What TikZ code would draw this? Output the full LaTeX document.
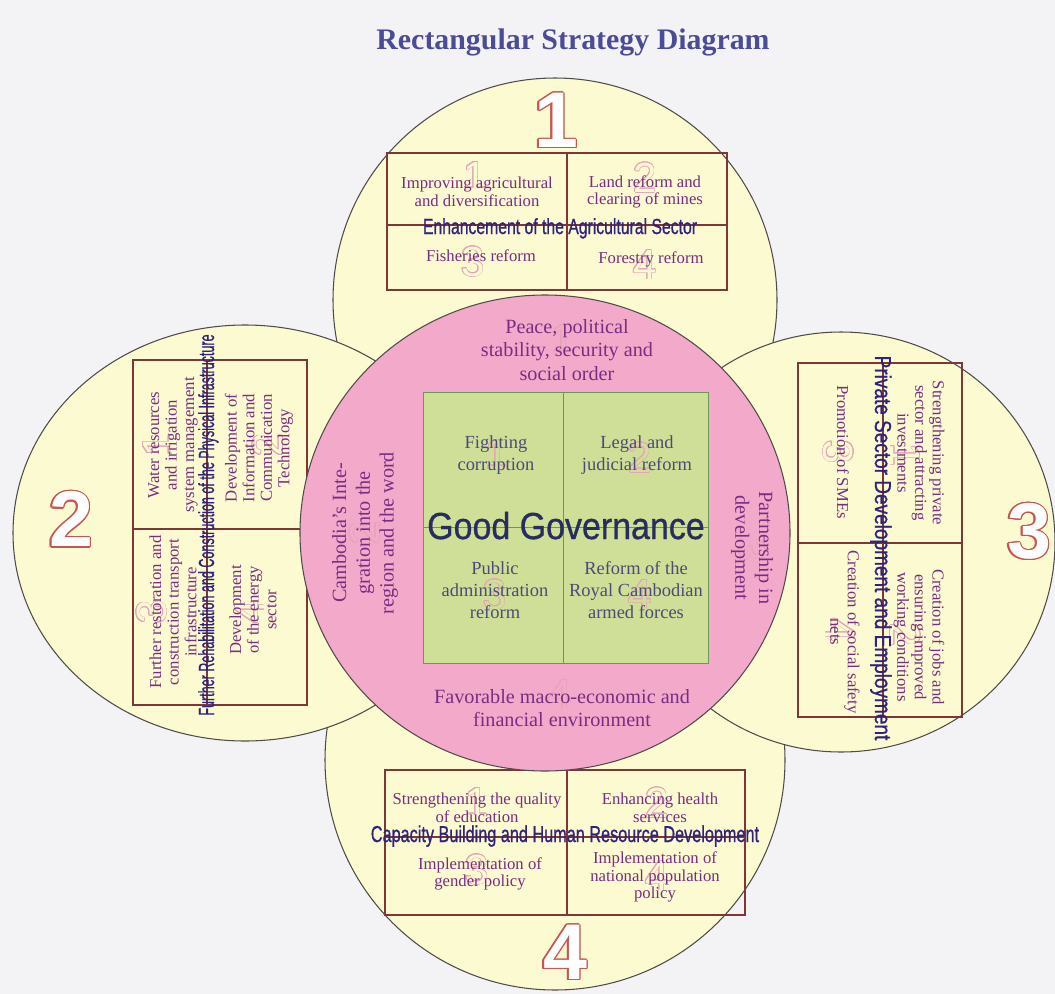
\documentclass[tikz,border=0pt]{standalone}
\usepackage{fontspec}
\usepackage{contour}
\setmainfont{Liberation Serif}
\newfontfamily\headsans{Liberation Sans}
\newfontfamily\bandsans[FakeBold=0.9]{Liberation Sans}

\definecolor{paper}{RGB}{243,243,246}
\definecolor{petal}{RGB}{252,250,208}
\definecolor{rose}{RGB}{243,170,202}
\definecolor{leaf}{RGB}{207,223,152}
\definecolor{leafline}{RGB}{110,150,90}
\definecolor{rim}{RGB}{80,75,75}
\definecolor{boxline}{RGB}{125,55,55}
\definecolor{plum}{RGB}{120,45,130}
\definecolor{ink}{RGB}{48,35,125}
\definecolor{navy}{RGB}{40,45,95}
\definecolor{slate}{RGB}{75,75,120}
\definecolor{titleblue}{RGB}{75,75,150}
\definecolor{numline}{RGB}{200,85,80}
\definecolor{ghostline}{RGB}{228,165,185}

\newcommand{\bandtitle}[3]{\bandsans\resizebox{#1}{#2}{#3}}
\newcommand{\bignum}[1]{\contour{numline}{\textcolor{white}{#1}}}
\newcommand{\ghostnum}[2]{\contour{ghostline}{\textcolor{#1}{#2}}}

\begin{document}
\begin{tikzpicture}[x=0.02cm,y=-0.02cm,inner sep=0pt,
	petalshape/.style={fill=petal,draw=rim,line width=0.6pt},
	cellbox/.style={draw=boxline,line width=0.8pt},
	item/.style={text=plum,align=center,font=\fontsize{9.5}{10}\selectfont},
	core/.style={text=plum,align=center,font=\fontsize{11.5}{13.5}\selectfont},
	pillar/.style={text=slate,align=center,font=\fontsize{10.5}{12.5}\selectfont},
	band/.style={text=ink,anchor=base}]
	\tikzstyle{bigdigit}=[font=\headsans\bfseries\fontsize{45}{45}\selectfont\contourlength{0.7pt}]
	\tikzstyle{ghost}=[font=\headsans\fontsize{24}{24}\selectfont\contourlength{0.35pt}]

	\useasboundingbox[fill=paper] (0,0) rectangle (1055,994);

	% the four petals
	\draw[petalshape] (555,300) circle [radius=222];
	\draw[petalshape] (555,760) circle [radius=230];
	\draw[petalshape] (245,533) ellipse [x radius=232,y radius=208];
	\draw[petalshape] (841,542) ellipse [x radius=214,y radius=210];

	% boxes in the petals
	\draw[cellbox] (387,153) rectangle (727,290) (567,153) -- (567,290) (387,225) -- (727,225);
	\draw[cellbox] (385,770) rectangle (745,915) (567,770) -- (567,915) (385,837) -- (745,837);
	\draw[cellbox] (133,360) rectangle (307,705) (133,529) -- (307,529) (207,360) -- (207,705);
	\draw[cellbox] (798,363) rectangle (962,717) (798,543) -- (962,543) (883,363) -- (883,717);

	% core
	\draw[fill=rose,draw=rim,line width=0.6pt] (545,533) ellipse [x radius=245,y radius=238];
	\draw[fill=leaf,draw=leafline,line width=0.5pt] (423,392) rectangle (708,663) (563,392) -- (563,663) (423,527) -- (708,527);

	% faint numbers behind the texts
	\foreach \x/\y/\n/\r/\bg [count=\i] in {
		475/177/1/0/petal, 645/178/2/0/petal, 473/262/3/0/petal, 645/265/4/0/petal,
		477/803/1/0/petal, 657/803/2/0/petal, 477/870/3/0/petal, 657/876/4/0/petal,
		158/445/1/90/petal, 268/445/2/90/petal, 152/612/3/90/petal, 250/612/4/90/petal,
		905/455/1/-90/petal, 838/452/3/-90/petal, 905/635/2/-90/petal, 840/630/4/-90/petal,
		563/340/1/0/rose, 365/533/2/90/rose, 750/550/3/-90/rose, 560/695/4/0/rose,
		497/455/1/0/leaf, 640/458/2/0/leaf, 495/595/3/0/leaf, 640/595/4/0/leaf}
		\node[ghost,rotate=\r] (g\i) at (\x,\y) {\ghostnum{\bg}{\n}};

	\node[font=\bfseries\fontsize{17}{17}\selectfont,text=titleblue] (title) at (573,42) {Rectangular Strategy Diagram};

	\node[bigdigit] (n1) at (556,121) {\bignum{1}};
	\node[bigdigit] (n2) at (71,520) {\bignum{2}};
	\node[bigdigit] (n3) at (1029,532) {\bignum{3}};
	\node[bigdigit] (n4) at (565,953) {\bignum{4}};

	% petal 1
	\node[item] (agri) at (477,192) {Improving agricultural\\and diversification};
	\node[item] (land) at (645,192) {Land reform and\\clearing of mines};
	\node[item] (fish) at (481,256) {Fisheries reform};
	\node[item] (forest) at (651,259) {Forestry reform};
	\node[band] (t1) at (560,234) {\bandtitle{156pt}{9pt}{Enhancement of the Agricultural Sector}};

	% petal 2
	\node[item,rotate=90] (water) at (173,445) {Water resources\\and irrigation\\system management};
	\node[item,rotate=90] (ict) at (259,448) {Development of\\Information and\\Communication\\Technology};
	\node[item,rotate=90] (transport) at (173,612) {Further restoration and\\construction transport\\infrastructure};
	\node[item,rotate=90] (energy) at (253,610) {Development\\of the energy\\sector};
	\node[band,rotate=90] (t2) at (214,525) {\bandtitle{217pt}{9pt}{Further Rehabilitation and Construction of the Physical Infrastructure}};

	% petal 3
	\node[item,rotate=-90] (invest) at (921,453) {Strengthening private\\sector and attracting\\investments};
	\node[item,rotate=-90] (sme) at (843,452) {Promotion of SMEs};
	\node[item,rotate=-90] (jobs) at (919,637) {Creation of jobs and\\ensuring improved\\working conditions};
	\node[item,rotate=-90] (safety) at (845,632) {Creation of social safety\\nets};
	\node[band,rotate=-90] (t3) at (875,548) {\bandtitle{219pt}{9.5pt}{Private Sector Development and Employment}};

	% petal 4
	\node[item] (educ) at (477,808) {Strengthening the quality\\of education};
	\node[item] (health) at (660,808) {Enhancing health\\services};
	\node[item] (gender) at (480,874) {Implementation of\\gender policy};
	\node[item] (popul) at (655,877) {Implementation of\\national population\\policy};
	\node[band] (t4) at (565,842) {\bandtitle{221pt}{9.5pt}{Capacity Building and Human Resource Development}};

	% core texts
	\node[core] (peace) at (567,350) {Peace, political\\stability, security and\\social order};
	\node[core,rotate=90] (integ) at (365,533) {Cambodia's Inte-\\gration into the\\region and the word};
	\node[core,rotate=-90] (partner) at (752,548) {Partnership in\\development};
	\node[core] (macro) at (562,708) {Favorable macro-economic and\\financial environment};

	\node[pillar] (corrupt) at (496,455) {Fighting\\corruption};
	\node[pillar] (legal) at (637,455) {Legal and\\judicial reform};
	\node[pillar] (admin) at (495,590) {Public\\administration\\reform};
	\node[pillar] (armed) at (636,590) {Reform of the\\Royal Cambodian\\armed forces};
	\node[anchor=base,text=navy] (gg) at (566,539) {\bandtitle{158pt}{15.5pt}{Good Governance}};
\end{tikzpicture}
\end{document}
